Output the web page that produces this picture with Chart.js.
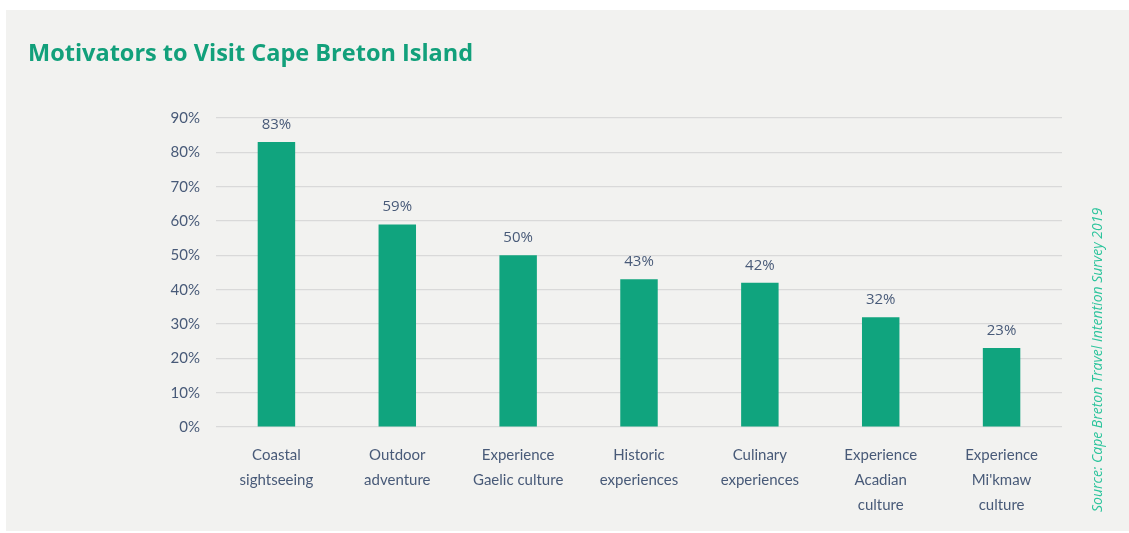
<!DOCTYPE html>
<html>
<head>
<meta charset="utf-8">
<script src="https://cdn.jsdelivr.net/npm/chart.js@4.4.1/dist/chart.umd.min.js"></script>
<style>
  html, body { margin: 0; padding: 0; background: #ffffff; }
  #wrap { width: 1129px; height: 533px; position: relative; }
</style>
</head>
<body>
<div id="wrap"><canvas id="myChart"></canvas></div>
<script>
// chart data
var categories = [
    ['Coastal', 'sightseeing'],
    ['Outdoor', 'adventure'],
    ['Experience', 'Gaelic culture'],
    ['Historic', 'experiences'],
    ['Culinary', 'experiences'],
    ['Experience', 'Acadian', 'culture'],
    ['Experience', "Mi'kmaw", 'culture']
];
var percents = [83, 59, 50, 43, 42, 32, 23];
var yTicks = [0, 10, 20, 30, 40, 50, 60, 70, 80, 90];

var titleText = 'Motivators to Visit Cape Breton Island';
var sourceText = 'Source: Cape Breton Travel Intention Survey 2019';

var green = '#10a47e';
var labelColor = '#485a78';

// panel background, title, source note
var decor = {
    id: 'decor',
    beforeDraw: function (chart) {
        var c = chart.ctx;
        c.save();
        c.fillStyle = '#f2f2f0';
        c.fillRect(6, 10, chart.width - 6, chart.height - 12);
        c.fillStyle = '#12a07b';
        c.font = 'bold 23.5px "Open Sans"';
        c.textBaseline = 'alphabetic';
        c.textAlign = 'left';
        c.fillText(titleText, 28, 61);
        c.translate(1102, 512);
        c.rotate(-Math.PI / 2);
        c.fillStyle = '#2cc49c';
        c.font = 'italic 14px "Open Sans"';
        c.fillText(sourceText, 0, 0);
        c.restore();
    }
};

// value labels above bars
var valueLabels = {
    id: 'valueLabels',
    afterDatasetsDraw: function (chart) {
        var c = chart.ctx;
        var meta = chart.getDatasetMeta(0);
        c.save();
        c.fillStyle = labelColor;
        c.font = '15px "Open Sans"';
        c.textAlign = 'center';
        c.textBaseline = 'bottom';
        meta.data.forEach(function (bar, i) {
            c.fillText(percents[i] + '%', bar.x, bar.y - 10);
        });
        c.restore();
    }
};

var ctx = document.getElementById('myChart');

var data = {
    labels: categories,
    datasets: [
        {
            label: 'Motivators',
            data: percents,
            backgroundColor: green,
            borderWidth: 0,
            categoryPercentage: 1,
            barPercentage: 0.31
        }]
};

var chart = new Chart(ctx, {
    type: 'bar',
    data: data,
    options: {
        responsive: true,
        maintainAspectRatio: false,
        animation: false,
        layout: { padding: { left: 140, right: 67, top: 118, bottom: 6 } },
        plugins: {
            legend: { display: false },
            tooltip: { enabled: false }
        },
        scales: {
            x: {
                grid: { display: false, drawTicks: false },
                border: { display: false },
                ticks: {
                    color: labelColor,
                    font: { family: 'Lato', size: 15, lineHeight: 1.65 },
                    padding: 16,
                    maxRotation: 0,
                    autoSkip: false
                },
                afterFit: function (scale) { scale.height = 100; }
            },
            y: {
                min: 0,
                max: 90,
                afterBuildTicks: function (scale) {
                    scale.ticks = yTicks.map(function (v) { return { value: v }; });
                },
                grid: { color: '#d9d9d9', lineWidth: 1.2, drawTicks: false },
                border: { display: false },
                ticks: {
                    color: labelColor,
                    font: { family: 'Lato', size: 15 },
                    padding: 16,
                    callback: function (v) { return v + '%'; }
                },
                afterFit: function (scale) { scale.width = 76; }
            }
        }
    },
    plugins: [decor, valueLabels]
});
</script>
</body>
</html>
